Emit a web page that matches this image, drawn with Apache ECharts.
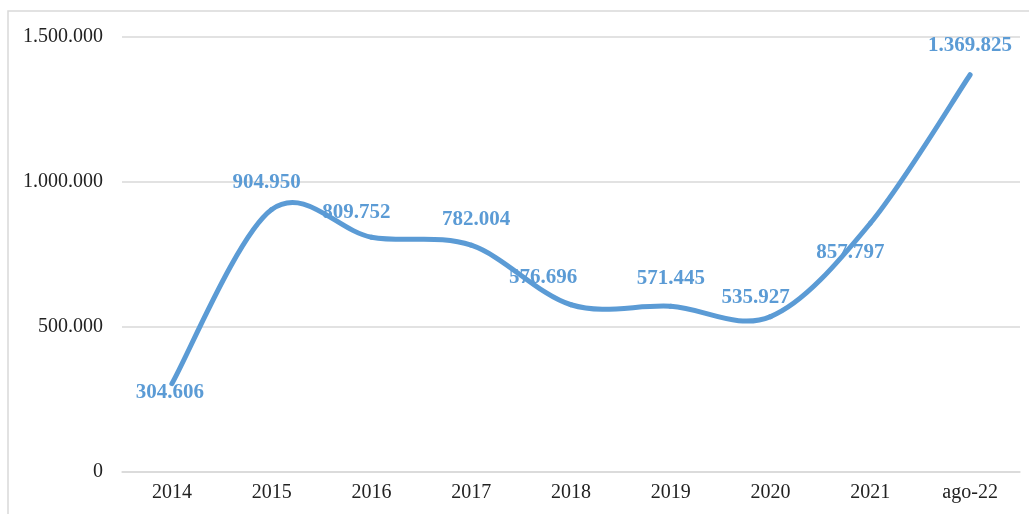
<!DOCTYPE html>
<html>
<head>
<meta charset="utf-8">
<script src="https://cdn.jsdelivr.net/npm/echarts@6/dist/echarts.min.js"></script>
<style>
html,body{margin:0;padding:0;background:#fff;}
#chart{width:1029px;height:514px;}
</style>
</head>
<body>
<div id="chart"></div>
<script>
const categories = ['2014','2015','2016','2017','2018','2019','2020','2021','ago-22'];
const values = [304606, 904950, 809752, 782004, 576696, 571445, 535927, 857797, 1369825];
const yTicks = { min: 0, max: 1500000, interval: 500000 };
// label offsets (layout only, relative to each point)
const labelOffsets = [[-2,9],[-5,-27],[-15,-25],[5,-26],[-28,-27],[0,-28],[-15,-19],[-20,29],[0,-29]];

function fmt(v){
  return String(Math.round(v)).replace(/\B(?=(\d{3})+(?!\d))/g, '.');
}

const LINE_COLOR = '#5B9BD5';
const SYM = 2;
const chart = echarts.init(document.getElementById('chart'), null, {renderer:'canvas'});
const labelData = values.map((v,i)=>({
  value: v,
  label: {
    position: [labelOffsets[i][0] + SYM/2, labelOffsets[i][1] + SYM/2],
    align: 'center',
    verticalAlign: 'middle'
  }
}));

// Excel-like smoothed line (Catmull-Rom bezier segments) through axis coordinates
function renderSegment(params, api){
  const i = params.dataIndex;
  const n = values.length;
  if (i >= n - 1) return null;
  const pt = j => api.coord([Math.max(0, Math.min(n - 1, j)), values[Math.max(0, Math.min(n - 1, j))]]);
  const p0 = pt(i - 1), p1 = pt(i), p2 = pt(i + 1), p3 = pt(i + 2);
  return {
    type: 'bezierCurve',
    shape: {
      x1: p1[0], y1: p1[1], x2: p2[0], y2: p2[1],
      cpx1: p1[0] + (p2[0] - p0[0]) / 6, cpy1: p1[1] + (p2[1] - p0[1]) / 6,
      cpx2: p2[0] - (p3[0] - p1[0]) / 6, cpy2: p2[1] - (p3[1] - p1[1]) / 6
    },
    style: { stroke: LINE_COLOR, lineWidth: 5, fill: null, lineCap: 'round' }
  };
}

chart.setOption({
  animation: false,
  backgroundColor: '#fff',
  graphic: [{
    type: 'rect',
    shape: { x: 8, y: 11, width: 1100, height: 600 },
    style: { fill: 'none', stroke: '#d9d9d9', lineWidth: 1.5 },
    silent: true
  }],
  grid: { left: 122, right: 9, top: 37, bottom: 42, containLabel: false },
  xAxis: {
    type: 'category',
    data: categories,
    boundaryGap: true,
    axisLine: { show: true, lineStyle: { color: '#d9d9d9', width: 1.5 } },
    axisTick: { show: false },
    axisLabel: { color: '#222', fontFamily: 'Liberation Serif', fontSize: 20, margin: 11 }
  },
  yAxis: {
    type: 'value',
    min: yTicks.min, max: yTicks.max, interval: yTicks.interval,
    axisLine: { show: false },
    axisTick: { show: false },
    splitLine: { lineStyle: { color: '#d9d9d9', width: 1.5 } },
    axisLabel: { color: '#222', fontFamily: 'Liberation Serif', fontSize: 20, margin: 19, formatter: fmt }
  },
  series: [{
    type: 'custom',
    renderItem: renderSegment,
    data: values.map((v, i) => [i, v]),
    encode: { x: 0, y: 1 },
    clip: false,
    z: 2
  }, {
    type: 'line',
    data: labelData,
    showSymbol: true,
    symbol: 'circle',
    symbolSize: SYM,
    itemStyle: { color: LINE_COLOR },
    lineStyle: { width: 0, opacity: 0 },
    z: 3,
    labelLayout: { hideOverlap: false },
    label: {
      show: true,
      color: LINE_COLOR,
      fontFamily: 'Liberation Serif',
      fontWeight: 'bold',
      fontSize: 21,
      formatter: p => fmt(p.value)
    }
  }]
});
</script>
</body>
</html>
